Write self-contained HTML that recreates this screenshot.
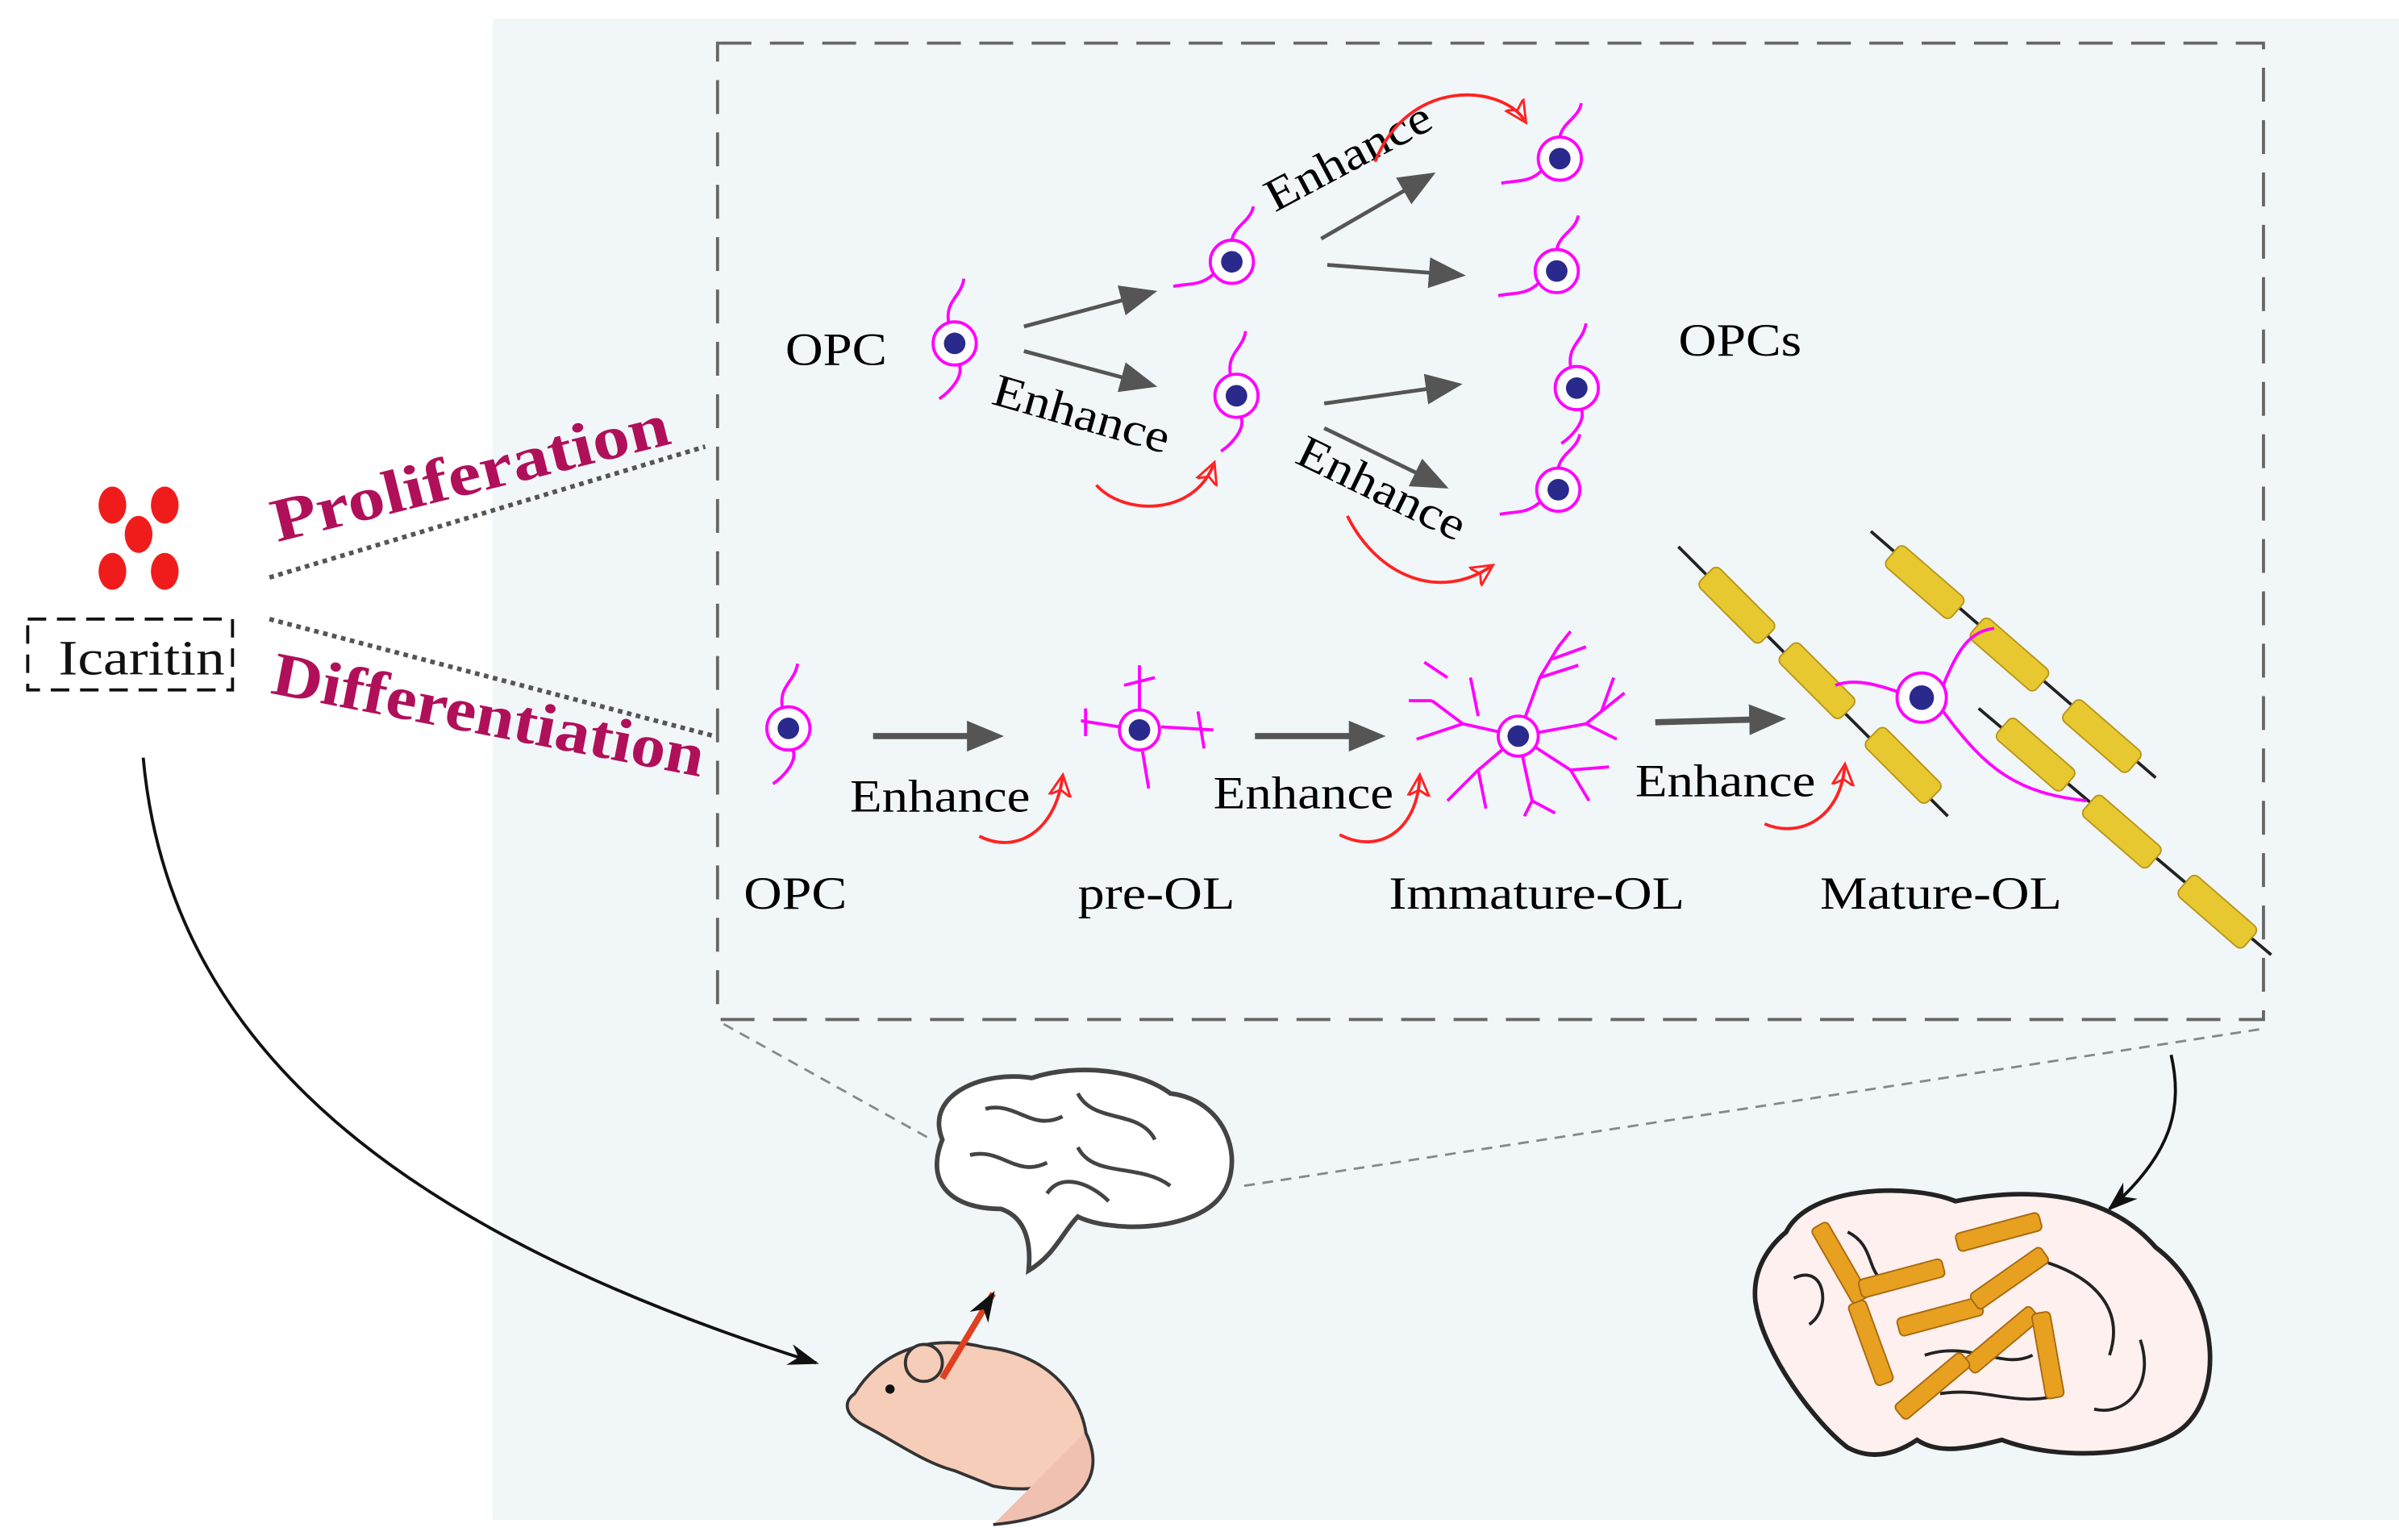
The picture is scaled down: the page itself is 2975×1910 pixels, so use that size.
<!DOCTYPE html>
<html><head><meta charset="utf-8"><style>
html,body{margin:0;padding:0;background:#fff}
svg{display:block}
text{font-family:"Liberation Serif","Times New Roman",serif}
</style></head><body>
<svg width="2975" height="1910" viewBox="0 0 1558 1000" preserveAspectRatio="none" xmlns="http://www.w3.org/2000/svg">
<defs>
<marker id="ga" markerWidth="24" markerHeight="24" refX="12" refY="12" orient="auto" markerUnits="userSpaceOnUse" viewBox="0 0 24 24"><path d="M0,2 L24,12 L0,22z" fill="#555"/></marker>
<marker id="ra" markerWidth="16" markerHeight="16" refX="12" refY="8" orient="auto" markerUnits="userSpaceOnUse"><path d="M0,1 L14,8 L0,15 L4,8z" fill="none" stroke="#f22" stroke-width="1.5"/></marker>
<marker id="ka" markerWidth="20" markerHeight="14" refX="18" refY="7" orient="auto" markerUnits="userSpaceOnUse"><path d="M0,0 L20,7 L0,14 L6,7z" fill="#111"/></marker>
<g id="cell"><path d="M-4,-14 C-6,-28 4,-30 6,-42 M3,14 C6,22 -4,32 -10,36" stroke="#f0f" stroke-width="2" fill="none"/><circle r="14" fill="#fff" stroke="#f0f" stroke-width="2"/><circle r="7" fill="#2a2a8c"/></g>
<g id="cellh"><path d="M0,-14 C2,-24 12,-26 14,-36 M-12,8 C-20,16 -30,14 -38,16" stroke="#f0f" stroke-width="2" fill="none"/><circle r="14" fill="#fff" stroke="#f0f" stroke-width="2"/><circle r="7" fill="#2a2a8c"/></g>
<g id="myel"><rect x="-28" y="-9" width="56" height="18" rx="4" fill="#e8c830" stroke="#b8961a" stroke-width="1"/></g>
</defs>
<rect x="320" y="12" width="1238" height="975" fill="#f1f6f9"/>
<rect x="466" y="28" width="1004" height="634" fill="none" stroke="#666" stroke-width="2" stroke-dasharray="22,12"/>
<g fill="#f01c1c"><ellipse cx="73" cy="328" rx="9" ry="12"/><ellipse cx="107" cy="328" rx="9" ry="12"/><ellipse cx="90" cy="347" rx="9" ry="12"/><ellipse cx="73" cy="371" rx="9" ry="12"/><ellipse cx="107" cy="371" rx="9" ry="12"/></g>
<rect x="18" y="402" width="133" height="46" fill="none" stroke="#111" stroke-width="2" stroke-dasharray="12,7"/>
<text x="38" y="438" font-size="32" textLength="108" lengthAdjust="spacingAndGlyphs" fill="#111">Icaritin</text>
<text x="180" y="352" font-size="40" font-weight="bold" fill="#b0105a" transform="rotate(-14 180 352)" textLength="265" lengthAdjust="spacingAndGlyphs">Proliferation</text>
<text x="175" y="450" font-size="40" font-weight="bold" fill="#b0105a" transform="rotate(11 175 450)" textLength="285" lengthAdjust="spacingAndGlyphs">Differentiation</text>
<path d="M175,375 L458,290" stroke="#555" stroke-width="3" stroke-dasharray="3,3"/>
<path d="M175,402 L464,478" stroke="#555" stroke-width="3" stroke-dasharray="3,3"/>
<text x="510" y="237" font-size="30" textLength="66" lengthAdjust="spacingAndGlyphs">OPC</text>
<text x="1090" y="231" font-size="30" textLength="80" lengthAdjust="spacingAndGlyphs">OPCs</text>
<use href="#cell" x="620" y="223"/>
<use href="#cellh" x="800" y="170"/>
<use href="#cell" x="803" y="257"/>
<use href="#cellh" x="1013" y="103"/>
<use href="#cellh" x="1011" y="176"/>
<use href="#cell" x="1024" y="252"/>
<use href="#cellh" x="1012" y="318"/>
<g stroke="#555" stroke-width="2.5" marker-end="url(#ga)"><path d="M665,212 L740,192"/><path d="M665,228 L740,248"/><path d="M858,155 L922,118"/><path d="M862,172 L940,178"/><path d="M860,262 L938,251"/><path d="M860,278 L930,312"/></g>
<g font-size="30"><text x="643" y="262" transform="rotate(16 643 262)" textLength="118" lengthAdjust="spacingAndGlyphs">Enhance</text><text x="828" y="138" transform="rotate(-28 828 138)" textLength="118" lengthAdjust="spacingAndGlyphs">Enhance</text><text x="840" y="300" transform="rotate(26 840 300)" textLength="118" lengthAdjust="spacingAndGlyphs">Enhance</text></g>
<g stroke="#f22" stroke-width="2" fill="none" marker-end="url(#ra)"><path d="M712,315 C730,335 775,335 788,302"/><path d="M893,105 C915,50 975,55 990,78"/><path d="M875,335 C895,375 935,390 968,368"/></g>
<use href="#cell" x="512" y="473"/>
<g stroke="#f0f" stroke-width="2" fill="none"><path d="M740,462 L740,432 M730,445 L750,440 M727,472 L702,468 M705,460 L705,478 M754,472 L788,474 M778,462 L782,486 M742,488 L746,512"/>
<path d="M986,478 L950,470 L930,455 M950,470 L920,480 M960,465 L955,440 M986,478 L1000,440 L1012,420 M1000,440 L1025,432 M1008,428 L1030,420 M1012,420 L1020,410 M986,478 L1030,470 L1055,450 M1030,470 L1050,480 M1040,462 L1048,440 M986,478 L960,500 L940,520 M960,500 L965,525 M986,478 L995,520 L1010,528 M995,520 L990,530 M986,478 L1020,500 L1032,520 M1020,500 L1045,498 M940,440 L925,430 M930,455 L915,455"/></g>
<circle cx="740" cy="474" r="13" fill="#fff" stroke="#f0f" stroke-width="2"/><circle cx="740" cy="474" r="7" fill="#2a2a8c"/>
<circle cx="986" cy="478" r="13" fill="#fff" stroke="#f0f" stroke-width="2"/><circle cx="986" cy="478" r="7" fill="#2a2a8c"/>
<g stroke="#555" stroke-width="4" marker-end="url(#ga)"><path d="M567,478 L640,478"/><path d="M815,478 L888,478"/><path d="M1075,469 L1148,467"/></g>
<g font-size="30"><text x="552" y="527" textLength="117" lengthAdjust="spacingAndGlyphs">Enhance</text><text x="788" y="525" textLength="117" lengthAdjust="spacingAndGlyphs">Enhance</text><text x="1062" y="517" textLength="117" lengthAdjust="spacingAndGlyphs">Enhance</text>
<text x="483" y="590" textLength="67" lengthAdjust="spacingAndGlyphs">OPC</text><text x="700" y="590" textLength="102" lengthAdjust="spacingAndGlyphs">pre-OL</text><text x="902" y="590" textLength="192" lengthAdjust="spacingAndGlyphs">Immature-OL</text><text x="1182" y="590" textLength="157" lengthAdjust="spacingAndGlyphs">Mature-OL</text></g>
<g stroke="#f22" stroke-width="2" fill="none" marker-end="url(#ra)"><path d="M636,543 C660,555 685,540 690,505"/><path d="M870,542 C895,555 920,540 922,505"/><path d="M1146,535 C1170,545 1195,530 1198,498"/></g>
<g stroke="#222" stroke-width="2"><path d="M1090,355 L1265,530"/><path d="M1215,345 L1400,505"/><path d="M1285,460 L1475,620"/></g>
<use href="#myel" transform="translate(1128,393) rotate(45)"/>
<use href="#myel" transform="translate(1180,442) rotate(45)"/>
<use href="#myel" transform="translate(1236,497) rotate(45)"/>
<use href="#myel" transform="translate(1250,378) rotate(41)"/>
<use href="#myel" transform="translate(1305,425) rotate(41)"/>
<use href="#myel" transform="translate(1365,478) rotate(41)"/>
<use href="#myel" transform="translate(1322,490) rotate(41)"/>
<use href="#myel" transform="translate(1378,540) rotate(41)"/>
<use href="#myel" transform="translate(1440,592) rotate(41)"/>
<path d="M1235,450 C1220,445 1205,440 1192,445 M1262,445 C1272,420 1280,410 1295,408 M1262,462 C1290,500 1310,515 1355,520" stroke="#f0f" stroke-width="2" fill="none"/>
<circle cx="1248" cy="453" r="16" fill="#fff" stroke="#f0f" stroke-width="2"/><circle cx="1248" cy="453" r="8" fill="#2a2a8c"/>
<path d="M470,665 L605,740 M808,770 L1470,668" stroke="#888" stroke-width="1.5" stroke-dasharray="7,5" fill="none"/>
<path d="M612,740 C600,710 640,695 670,700 C700,690 740,695 760,710 C800,715 810,760 790,780 C770,800 720,800 700,790 C690,800 685,815 668,825 C670,805 665,790 650,785 C620,785 600,770 612,740Z" fill="#fff" stroke="#444" stroke-width="3"/>
<path d="M640,720 C660,715 670,735 690,725 M700,710 C710,730 740,720 750,740 M630,750 C650,745 660,765 680,755 M700,745 C710,765 740,755 760,770 M680,775 C690,760 710,770 720,780" stroke="#444" stroke-width="2.5" fill="none"/>
<path d="M93,492 C110,680 260,800 530,885" stroke="#111" stroke-width="2" fill="none" marker-end="url(#ka)"/>
<path d="M1410,685 C1418,720 1410,750 1370,785" stroke="#111" stroke-width="2" fill="none" marker-end="url(#ka)"/>
<path d="M555,905 C570,880 600,865 640,875 C690,880 710,920 705,945 C700,965 670,970 645,965 L620,955 C600,950 580,935 560,925 C548,918 548,910 555,905Z" fill="#f6cdb8" stroke="#333" stroke-width="2"/>
<path d="M705,930 C720,960 700,985 645,990" stroke="#333" stroke-width="2" fill="#f0c0b0"/>
<circle cx="600" cy="885" r="12" fill="#f6cdb8" stroke="#333" stroke-width="2"/>
<circle cx="578" cy="902" r="3" fill="#111"/>
<path d="M612,895 L645,840" stroke="#e04020" stroke-width="4" marker-end="url(#ka)"/>
<path d="M1160,800 C1175,770 1240,768 1270,780 C1320,770 1370,775 1400,810 C1440,840 1445,900 1420,925 C1400,945 1340,950 1300,935 C1280,940 1260,945 1245,935 C1230,945 1215,948 1200,940 C1180,925 1145,880 1140,845 C1138,825 1148,810 1160,800Z" fill="#fdf0ee" stroke="#222" stroke-width="3"/>
<path d="M1165,830 C1185,820 1190,850 1175,860 M1200,800 C1220,810 1210,830 1230,835 M1330,820 C1360,830 1380,850 1370,880 M1390,870 C1400,900 1380,920 1360,915 M1250,880 C1280,870 1300,890 1320,880 M1260,905 C1290,900 1310,915 1340,905" stroke="#222" stroke-width="2" fill="none"/>
<g fill="#e8a020" stroke="#a86a10" stroke-width="1">
<rect x="-28" y="-6" width="56" height="12" rx="3" transform="translate(1195,820) rotate(60)"/>
<rect x="-28" y="-6" width="56" height="12" rx="3" transform="translate(1235,830) rotate(-15)"/>
<rect x="-28" y="-6" width="56" height="12" rx="3" transform="translate(1298,800) rotate(-15)"/>
<rect x="-28" y="-6" width="56" height="12" rx="3" transform="translate(1260,855) rotate(-15)"/>
<rect x="-28" y="-6" width="56" height="12" rx="3" transform="translate(1305,830) rotate(-35)"/>
<rect x="-28" y="-6" width="56" height="12" rx="3" transform="translate(1215,872) rotate(70)"/>
<rect x="-28" y="-6" width="56" height="12" rx="3" transform="translate(1300,870) rotate(-40)"/>
<rect x="-28" y="-6" width="56" height="12" rx="3" transform="translate(1255,900) rotate(-40)"/>
<rect x="-28" y="-6" width="56" height="12" rx="3" transform="translate(1330,880) rotate(80)"/>
</g>
</svg>
</body></html>
